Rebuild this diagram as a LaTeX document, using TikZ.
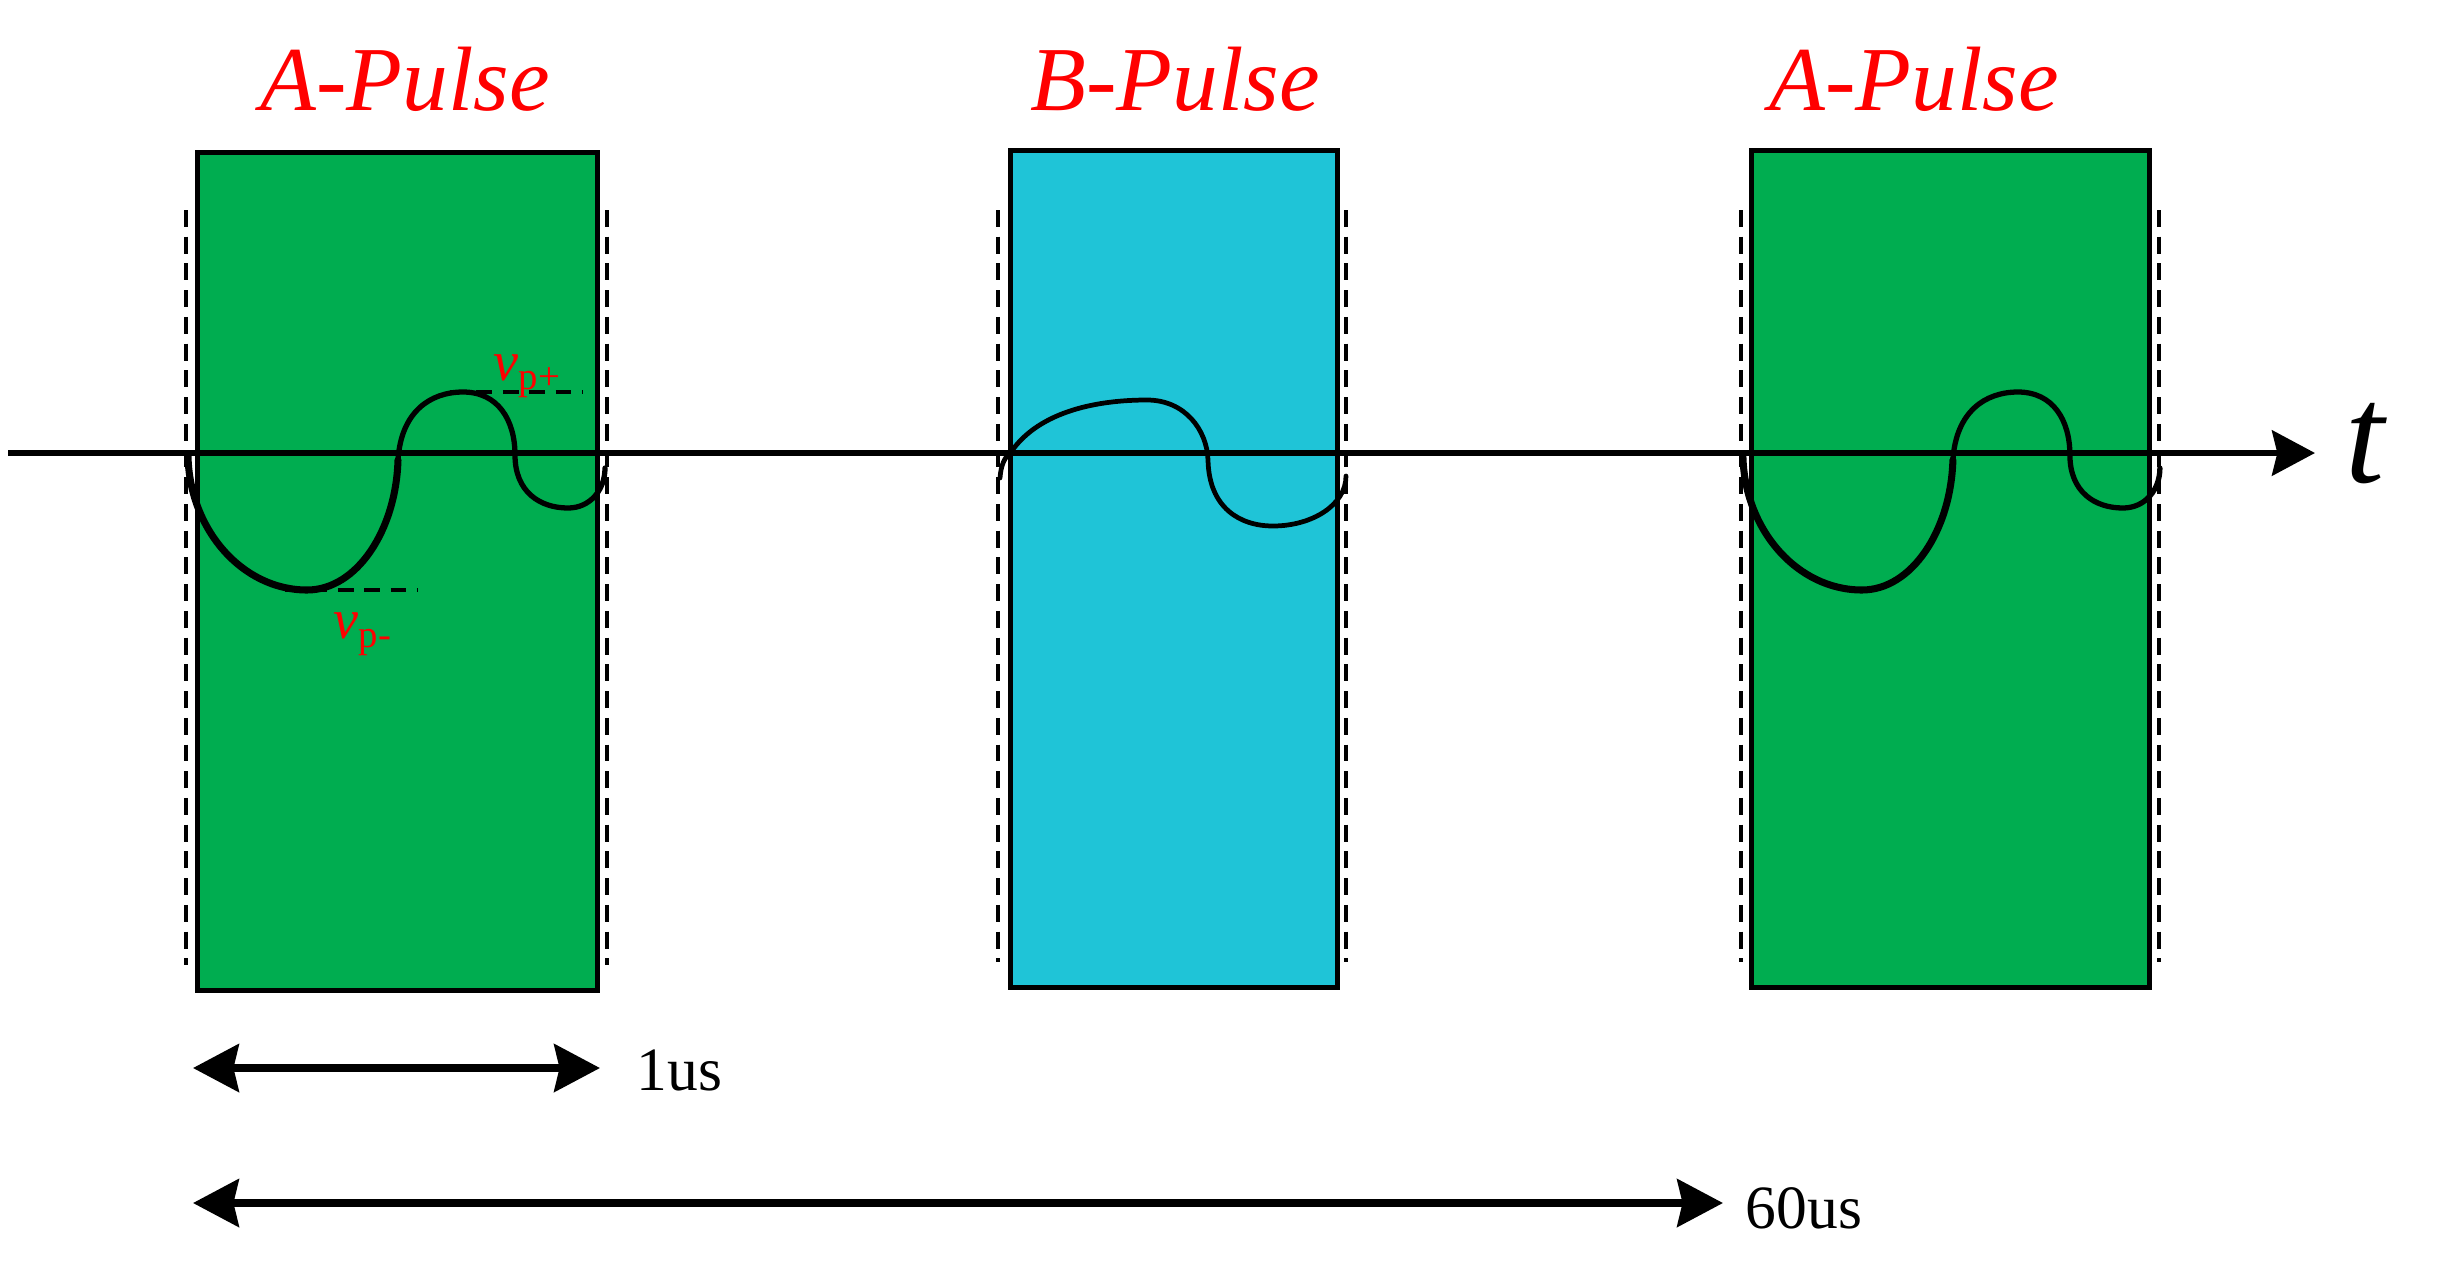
\documentclass[tikz,border=0pt]{standalone}
\usepackage{fontspec}
\setmainfont{Liberation Serif}
\usetikzlibrary{arrows.meta}
\definecolor{pgreen}{HTML}{00AD50}
\definecolor{pcyan}{HTML}{1FC4D7}
\definecolor{pred}{HTML}{FF0000}
\begin{document}
\begin{tikzpicture}[x=0.01cm,y=-0.01cm,
  >={Stealth[length=13pt,width=13.5pt,inset=1.5pt]},
  pulsebox/.style={draw=black, line width=1.4pt, inner sep=0pt, minimum height=8.37cm},
  vdash/.style={line width=1.1pt, dash pattern=on 4.8pt off 2.8pt},
  pdash/.style={line width=1.2pt, dash pattern=on 4.5pt off 3pt},
  wave/.style={line width=1.5pt, line join=round, line cap=round},
  dimarrow/.style={line width=2.2pt, <->},
  title/.style={text=pred, font=\fontsize{26}{26}\selectfont\itshape, anchor=base, inner sep=0pt},
  vlabel/.style={text=pred, font=\fontsize{16}{16}\selectfont, anchor=base west, inner sep=0pt},
  dimlabel/.style={font=\fontsize{17.5}{17.5}\selectfont, anchor=base west, inner sep=0pt}]
\useasboundingbox (0,0) rectangle (2460,1278);

% boxes
\node[pulsebox, fill=pgreen, minimum width=3.99cm] (boxA1) at (397.5,571.5) {};
\node[pulsebox, fill=pcyan, minimum width=3.26cm, minimum height=8.36cm] (boxB) at (1174,569) {};
\node[pulsebox, fill=pgreen, minimum width=3.97cm, minimum height=8.36cm] (boxA2) at (1950.5,569) {};

% titles
\node[title] (tA1) at (405,110) {A-Pulse};
\node[title] (tB) at (1175,110) {B-Pulse};
\node[title] (tA2) at (1914,110) {A-Pulse};

% dashed boundaries
\draw[vdash] (186,210) -- (186,965);
\draw[vdash] (607,210) -- (607,965);
\draw[vdash] (998,210) -- (998,962);
\draw[vdash] (1346,210) -- (1346,962);
\draw[vdash] (1741,210) -- (1741,962);
\draw[vdash] (2159,210) -- (2159,962);

% time axis
\coordinate (axS) at (8,453);
\coordinate (axE) at (2315,453);
\draw[line width=1.9pt, -{Stealth[length=12.2pt,width=12.8pt,inset=1.5pt]}] (axS) -- (axE);
\node[font=\fontsize{40}{40}\selectfont\itshape, anchor=base, inner sep=0pt] (tlab) at (2365,482) {t};

% wave A1
\draw[wave, line width=2pt] (188,455) .. controls (189,529) and (242,590) .. (307,590)
  .. controls (357,590) and (396,530) .. (398,460);
\draw[wave] (398,460) .. controls (401,412) and (430,392) .. (463,392)
  .. controls (498,392) and (515,420) .. (515,455)
  .. controls (515,492) and (540,508) .. (568,508)
  .. controls (590,508) and (605,490) .. (605,468);
% wave A2
\begin{scope}[xshift=15.54cm]
\draw[wave, line width=2pt] (188,455) .. controls (189,529) and (242,590) .. (307,590)
  .. controls (357,590) and (396,530) .. (398,460);
\draw[wave] (398,460) .. controls (401,412) and (430,392) .. (463,392)
  .. controls (498,392) and (515,420) .. (515,455)
  .. controls (515,492) and (540,508) .. (568,508)
  .. controls (590,508) and (605,490) .. (605,468);
\end{scope}
% wave B
\draw[wave, line width=1.35pt] (1000,478) .. controls (1001,464) and (1005,457) .. (1011,452)
  .. controls (1040,410) and (1100,400) .. (1147,400)
  .. controls (1185,400) and (1207,430) .. (1208,460)
  .. controls (1209,508) and (1240,526) .. (1273,526)
  .. controls (1312,526) and (1346,505) .. (1346,476);

% vp markers
\coordinate (vpPa) at (450,392);
\coordinate (vpPb) at (582,392);
\draw[pdash] (vpPa) -- (vpPb);
\coordinate (vpMa) at (285,590);
\coordinate (vpMb) at (417,590);
\draw[pdash] (vpMa) -- (vpMb);
\node[vlabel] (vplus) at (493,380) {\textit{v}\raisebox{-0.35ex}{\fontsize{11}{11}\selectfont p+}};
\node[vlabel] (vminus) at (333,638) {\textit{v}\raisebox{-0.35ex}{\fontsize{11}{11}\selectfont p-}};

% dimension arrows
\coordinate (d1a) at (193,1068);
\coordinate (d1b) at (600,1068);
\draw[dimarrow] (d1a) -- (d1b);
\node[dimlabel] (l1) at (636,1090) {1us};
\coordinate (d2a) at (193,1203);
\coordinate (d2b) at (1723,1203);
\draw[dimarrow] (d2a) -- (d2b);
\node[dimlabel] (l2) at (1745,1228) {60us};
\end{tikzpicture}
\end{document}
